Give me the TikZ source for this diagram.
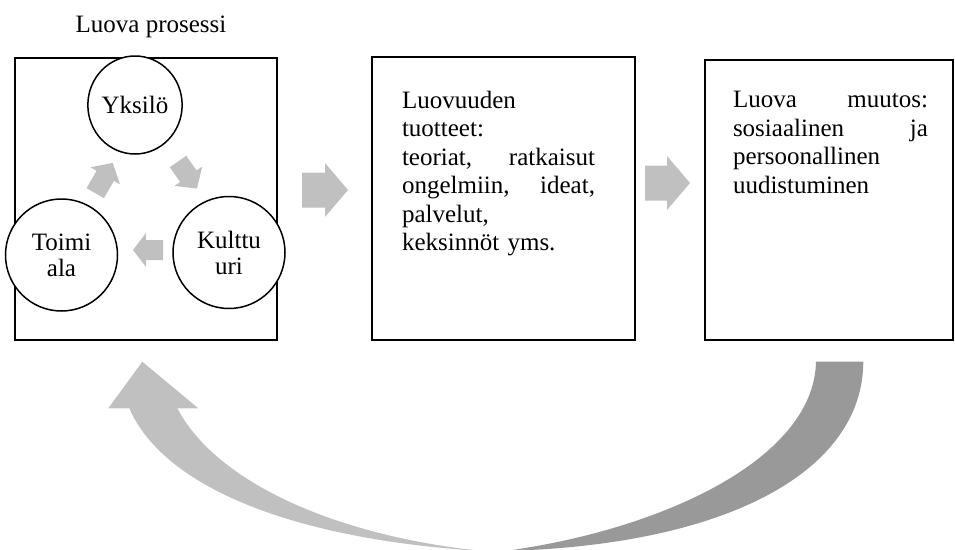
\documentclass[tikz,border=0pt]{standalone}
\usepackage{fontspec}
\setmainfont{Liberation Serif}
\usetikzlibrary{shapes.geometric}
\definecolor{lightarrow}{RGB}{192,192,192}
\definecolor{darkarrow}{RGB}{153,153,153}
\newcommand\txtfont{\fontsize{25}{28.5}\selectfont}
\newcommand\circfont{\fontsize{25}{26}\selectfont}
\newcommand\jline[1]{\noindent\hbox to \linewidth{#1}}
% #1 centre, #2 angle, #3 length, #4 shaft half width, #5 head half width, #6 head length
\newcommand\blkarrow[6]{%
  \fill[lightarrow,shift={#1},rotate=#2]
    (-#3/2,-#4) -- (#3/2-#6,-#4) -- (#3/2-#6,-#5) -- (#3/2,0) --
    (#3/2-#6,#5) -- (#3/2-#6,#4) -- (-#3/2,#4) -- cycle;}
\begin{document}
\begin{tikzpicture}[x=1pt,y=-1pt,
  every node/.style={inner sep=0pt,outer sep=0pt},
  box/.style={draw,line width=2pt,rectangle,anchor=north west},
  circ/.style={draw,ellipse,fill=white,line width=1.5pt,align=center,font=\circfont},
  txt/.style={anchor=north west,align=left,font=\txtfont}]
\useasboundingbox (0,0) rectangle (955,549);
% bottom curved feedback arrow
\begin{scope}
\clip (0,0) rectangle (955,549);
\fill[lightarrow] (142.3,361.7) -- (198.3,408.3) -- (177.3,408.3)
  .. controls (215,480) and (330,535) .. (482,551)
  .. controls (300,540) and (165,490) .. (129.3,408.3)
  -- (108.3,408.3) -- cycle;
\fill[darkarrow] (816,361.7) -- (863.3,361.7)
  .. controls (863,470) and (730,545) .. (505,551)
  .. controls (660,530) and (814,460) .. (816,361.7) -- cycle;
\end{scope}
% boxes
\node[box,minimum width=262pt,minimum height=282pt] (b1) at (15,58) {};
\node[box,minimum width=263pt,minimum height=283pt] (b2) at (372,57) {};
\node[box,minimum width=248pt,minimum height=280pt] (b3) at (705,60) {};
% title
\node[anchor=base,font=\txtfont] (title) at (151,32) {Luova prosessi};
% circles
\node[circ,minimum width=88pt,minimum height=98pt] (yk) at (135,105) {Yksilö};
\node[circ,minimum width=112pt,minimum height=112pt] (to) at (61.5,255) {Toimi\\ala};
\node[circ,minimum width=112pt,minimum height=112pt] (ku) at (229,252.5) {Kulttu\\uri};
% small arrows in the cycle
\blkarrow{(104,178)}{60}{35}{10}{17}{15}
\blkarrow{(187.5,175)}{-55}{33}{10}{17}{15}
\blkarrow{(148,250)}{180}{30}{10}{17}{13}
% big arrows between boxes
\blkarrow{(325,190)}{0}{46}{17.5}{27}{23}
\blkarrow{(667.5,183)}{0}{45}{17.5}{27}{23}
% box texts
\node[txt,text width=193pt] (t2) at (402,91)
  {Luovuuden\\ tuotteet:\\ \jline{teoriat,\hfill ratkaisut}\\
   \jline{ongelmiin,\hfill ideat,}\\ palvelut,\\ keksinnöt yms.};
\node[txt,text width=195pt] (t3) at (733,91.5)
  {\jline{Luova\hfill muutos:}\\ \jline{sosiaalinen\hfill ja}\\
   persoonallinen\\ uudistuminen};
\end{tikzpicture}
\end{document}
